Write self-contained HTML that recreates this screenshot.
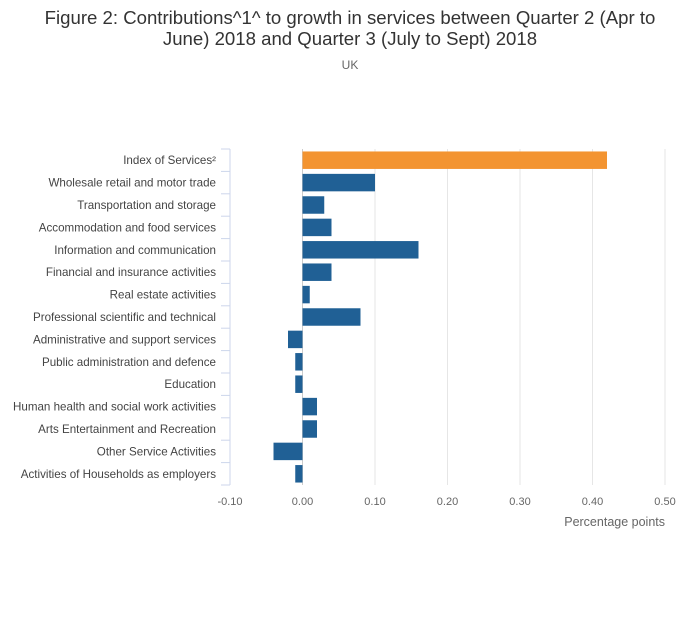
<!DOCTYPE html>
<html><head><meta charset="utf-8"><style>
body{margin:0;background:#fff;font-family:"Liberation Sans",sans-serif;}
svg text{font-family:"Liberation Sans",sans-serif;}
</style></head><body>
<svg id="chart" width="700" height="635">
<text x="350" y="24" text-anchor="middle" font-size="18.6" fill="#333">Figure 2: Contributions^1^ to growth in services between Quarter 2 (Apr to</text>
<text x="350" y="45" text-anchor="middle" font-size="18.6" fill="#333">June) 2018 and Quarter 3 (July to Sept) 2018</text>
<text x="350" y="69" text-anchor="middle" font-size="12" fill="#666">UK</text>
<g id="grid"></g><g id="bars"></g><g id="yaxis"></g><g id="xaxis"></g>
<text x="665" y="526" text-anchor="end" font-size="12.5" fill="#666">Percentage points</text>
</svg>
<script>
const categories=["Index of Services²","Wholesale retail and motor trade","Transportation and storage","Accommodation and food services","Information and communication","Financial and insurance activities","Real estate activities","Professional scientific and technical","Administrative and support services","Public administration and defence","Education","Human health and social work activities","Arts Entertainment and Recreation","Other Service Activities","Activities of Households as employers"];
const values=[0.42,0.10,0.03,0.04,0.16,0.04,0.01,0.08,-0.02,-0.01,-0.01,0.02,0.02,-0.04,-0.01];
const ticks=[-0.1,0,0.1,0.2,0.3,0.4,0.5];
const tickLabels=["-0.10","0.00","0.10","0.20","0.30","0.40","0.50"];
const NS="http://www.w3.org/2000/svg";
const x0=230,x1=665,yTop=149,yBot=485;
const xs=v=>x0+(v-(-0.1))/0.6*(x1-x0);
const band=(yBot-yTop)/categories.length;
const ys=i=>yTop+i*band;
function mk(t,a,p){const e=document.createElementNS(NS,t);for(const k in a)e.setAttribute(k,a[k]);p.appendChild(e);return e;}
const g=document.getElementById('grid'),b=document.getElementById('bars'),ya=document.getElementById('yaxis'),xa=document.getElementById('xaxis');
ticks.forEach((t,i)=>{
 if(i>0){const l=mk('line',{x1:xs(t),x2:xs(t),y1:yTop,y2:yBot,stroke:t===0?'#ccc':'#e6e6e6','stroke-width':1},g);
 
 }
 const tx=mk('text',{x:xs(t),y:505,'text-anchor':'middle','font-size':11,fill:'#666'},xa);tx.textContent=tickLabels[i];
 
 
});
values.forEach((v,i)=>{
 const r=mk('rect',{x:Math.min(xs(v),xs(0)),y:ys(i)+band*0.11,width:Math.abs(xs(v)-xs(0)),height:band*0.78,fill:i===0?'#f39431':'#206095'},b);
 
 
 const tx=mk('text',{x:216,y:ys(i)+band/2+4,'text-anchor':'end','font-size':11.6,fill:'#444'},ya);tx.textContent=categories[i];
 
 
});
const ax=mk('line',{x1:x0,x2:x0,y1:yTop,y2:yBot,stroke:'#ccd6eb','stroke-width':1},ya);


for(let i=0;i<=categories.length;i++){const t=mk('line',{x1:x0-9,x2:x0,y1:ys(i),y2:ys(i),stroke:'#ccd6eb','stroke-width':1},ya);
 
 }
</script>
</body></html>
